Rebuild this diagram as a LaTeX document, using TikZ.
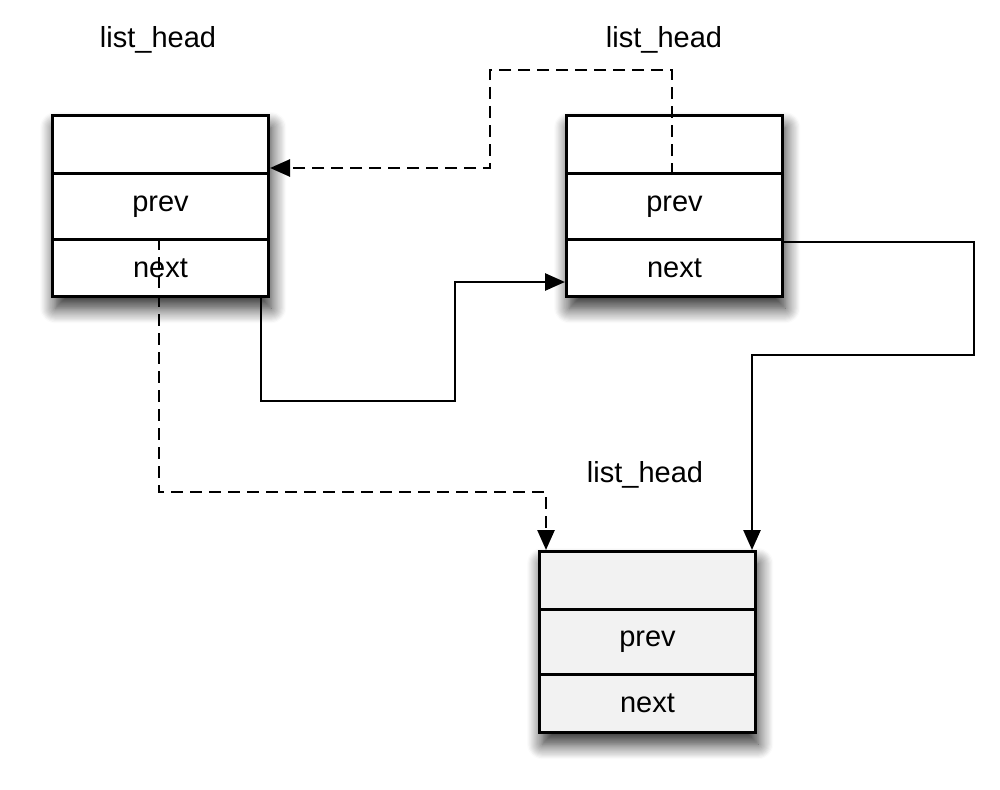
\documentclass[tikz,border=0pt]{standalone}
\usepackage{fontspec}
\setmainfont{Liberation Sans}
\usetikzlibrary{arrows.meta,shadows.blur,calc}
\begin{document}
\begin{tikzpicture}[x=1pt,y=-1pt,
  txt/.style={font=\fontsize{29}{32}\selectfont},
  frame/.style={fill=#1, minimum width=216pt, minimum height=181pt, inner sep=0pt, anchor=north west,
    blur shadow={shadow xshift=4pt, shadow yshift=-13pt, shadow blur radius=15pt, shadow opacity=85, shadow blur steps=14}},
  cell/.style={draw, line width=3pt, fill=#1, minimum width=216pt, inner sep=0pt, anchor=north west, txt},
  link/.style={line width=2.6pt, -{Triangle[length=20pt,width=17pt]}},
  dlink/.style={link, dash pattern=on 12pt off 7pt}
]
\useasboundingbox (0,0) rectangle (1000,789);
% box 1
\node[frame=white] (b1) at (51,114) {};
\node[cell=white, minimum height=58pt] (b1a) at (51,114) {};
\node[cell=white, minimum height=66pt] (b1p) at (51,172) {prev};
\node[cell=white, minimum height=57pt] (b1n) at (51,238) {next};
% box 2
\node[frame=white] (b2) at (565,114) {};
\node[cell=white, minimum height=58pt] (b2a) at (565,114) {};
\node[cell=white, minimum height=66pt] (b2p) at (565,172) {prev};
\node[cell=white, minimum height=57pt] (b2n) at (565,238) {next};
% box 3
\node[frame={black!5}] (b3) at (538,550) {};
\node[cell={black!5}, minimum height=58pt] (b3a) at (538,550) {};
\node[cell={black!5}, minimum height=65pt] (b3p) at (538,608) {prev};
\node[cell={black!5}, minimum height=58pt] (b3n) at (538,673) {next};
% labels
\node[txt] (l1) at (158,40) {list\_head};
\node[txt] (l2) at (664,40) {list\_head};
\node[txt] (l3) at (645,475) {list\_head};
% connectors
\draw[dlink] ($(b2a.south west)+(107,0)$) |- (490,70) |- ($(b1a.south east)+(0,-7)$);
\draw[link] ($(b1n.south east)+(-9,0)$) |- (455,401) |- ($(b2n.south west)+(0,-16)$);
\draw[link] ($(b2n.north east)+(0,4)$) -| (974,355) -| ($(b3a.north east)+(-5,0)$);
\draw[dlink] ($(b1n.north west)+(108,0)$) |- (546,492) -- ($(b3a.north west)+(8,0)$);
\end{tikzpicture}
\end{document}
